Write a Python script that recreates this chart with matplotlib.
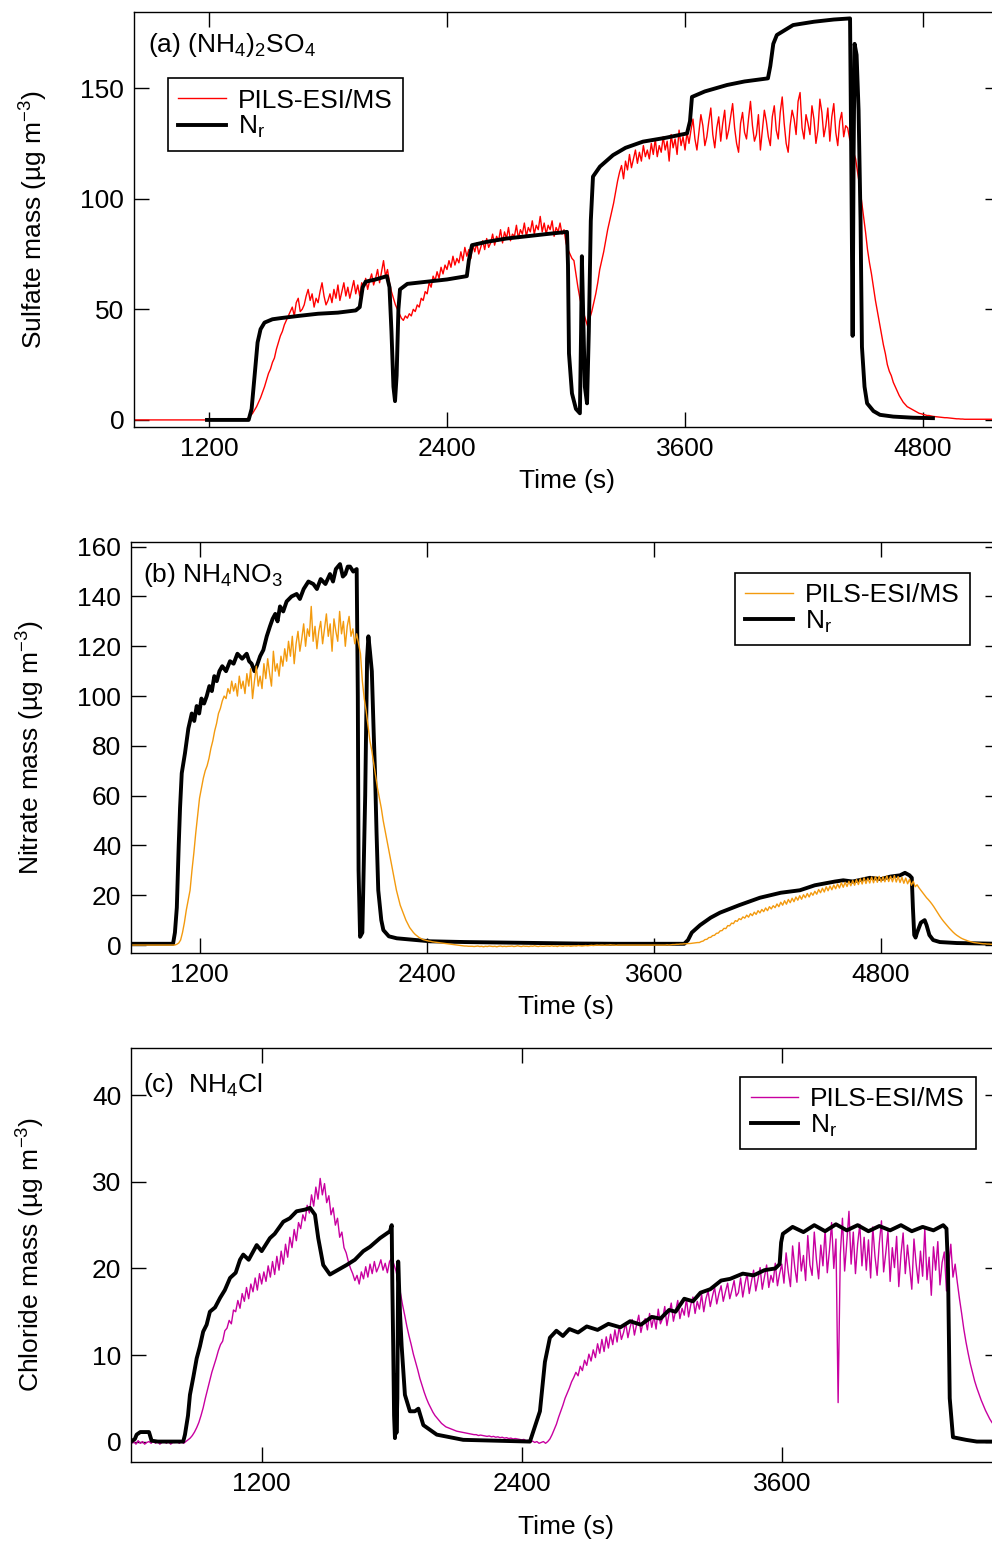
import numpy as np
import matplotlib
matplotlib.use('Agg')
import matplotlib.pyplot as plt

plt.rcParams['font.family'] = ['Liberation Sans', 'DejaVu Sans']
plt.rcParams['mathtext.fontset'] = 'custom'
plt.rcParams['mathtext.rm'] = 'Liberation Sans'
plt.rcParams['mathtext.it'] = 'Liberation Sans:italic'
plt.rcParams['mathtext.bf'] = 'Liberation Sans:bold'

# ---- (a) ammonium sulfate ----
# PILS-ESI/MS, one value every 10 s starting at 820 s (rows = 200 s)
sul_pils_t0, sul_pils_dt = 820, 10
sul_pils = [
    0, 0, 0, 0, 0, 0, 0, 0, 0, 0, 0, 0, 0, 0, 0, 0, 0, 0, 0, 0,                        # 820
    0, 0, 0, 0, 0, 0, 0, 0, 0, 0, 0, 0, 0, 0, 0, 0, 0, 0, 0, 0,                        # 1020
    0, 0, 0, 0, 0, 0, 0, 0, 0, 0, 0, 0, 0, 0, 0, 0, 0.3, 0.5, 1, 2,                    # 1220
    3, 4.5, 6, 8, 10, 12.5, 15, 18, 21, 23, 26, 28, 32, 35, 38, 40, 43, 45, 47, 49,    # 1420
    51, 47, 53, 55, 49, 50, 52, 56, 59, 54, 57, 51, 55, 53, 58, 62, 56, 52, 54, 57,    # 1620
    53, 59, 55, 61, 54, 58, 62, 56, 60, 55, 59, 63, 57, 61, 56, 62, 60, 64, 59, 63,    # 1820
    66, 61, 64, 68, 62, 67, 72, 65, 68, 62, 58, 55, 52, 50, 48, 46, 45, 47, 46, 48,    # 2020
    47, 50, 49, 52, 51, 55, 54, 58, 57, 62, 60, 65, 63, 67, 64, 69, 66, 70, 68, 72,    # 2220
    69, 74, 70, 73, 71, 76, 72, 78, 74, 77, 73, 79, 76, 80, 75, 78, 81, 77, 82, 78,    # 2420
    80, 84, 79, 83, 81, 86, 80, 85, 82, 87, 81, 84, 83, 88, 82, 86, 84, 89, 83, 87,    # 2620
    85, 90, 84, 88, 86, 92, 85, 89, 84, 88, 86, 90, 83, 87, 85, 89, 84, 86, 80, 77,    # 2820
    75, 73, 72, 66, 60, 55, 51, 48, 45, 42, 46, 49, 53, 57, 62, 68, 72, 76, 81, 86,    # 3020
    90, 94, 98, 103, 108, 112, 115, 109, 117, 113, 120, 114, 118, 122, 116, 121, 117, 124, 119, 122,  # 3220
    118, 125, 120, 127, 119, 124, 121, 128, 122, 126, 117, 129, 123, 127, 120, 131, 124, 128, 122, 130,  # 3420
    125, 131, 136, 127, 122, 130, 138, 133, 124, 128, 135, 141, 129, 123, 132, 137, 126, 134, 140, 127,  # 3620
    131, 137, 143, 132, 125, 121, 134, 139, 130, 127, 136, 144, 133, 126, 129, 138, 122, 131, 140, 135,  # 3820
    128, 124, 137, 142, 131, 127, 139, 146, 134, 125, 121, 133, 140, 136, 129, 144, 148, 132, 127, 138,  # 4020
    134, 129, 142, 136, 125, 131, 145, 139, 128, 133, 141, 126, 137, 143, 130, 124, 135, 139, 128, 133,  # 4220
    132, 127, 125, 121, 118, 112, 106, 99, 92, 85, 77, 71, 66, 60, 54, 49, 44, 39, 34, 30,  # 4420
    25, 22, 20, 17, 15, 13, 11, 9.5, 8, 7, 6, 5.5, 5, 4.5, 4, 3.5, 3, 2.8, 2.5, 2.3,   # 4620
    2, 2, 1.8, 1.6, 1.5, 1.4, 1.3, 1.2, 1.1, 1, 1, 0.9, 0.8, 0.7, 0.6, 0.5, 0.5, 0.4, 0.4, 0.3,  # 4820
    0.3, 0.3, 0.3, 0.3, 0.3, 0.3, 0.3, 0.3, 0.3, 0.3, 0.3, 0.3, 0.3, 0.3, 0.3, 0.3, 0.3,  # 5020
]
sul_nr_t = [1190, 1400, 1415, 1430, 1445, 1460, 1480, 1520, 1560, 1650,
            1750, 1850, 1940, 1960, 1975, 1990, 2040, 2097, 2110, 2120,
            2130, 2138, 2146, 2155, 2163, 2200, 2300, 2400, 2500, 2510,
            2526, 2600, 2700, 2800, 2900, 3005, 3010, 3015, 3030, 3050,
            3070, 3076, 3080, 3086, 3095, 3106, 3115, 3125, 3136, 3171,
            3237, 3300, 3388, 3500, 3610, 3625, 3635, 3700, 3812, 3900,
            4018, 4030, 4045, 4063, 4145, 4250, 4350, 4432, 4438, 4445,
            4450, 4455, 4465, 4475, 4485, 4492, 4505, 4518, 4550, 4583,
            4650, 4750, 4850]
sul_nr = [0, 0, 5, 20, 35, 41, 44, 45.5, 46, 47,
          48, 48.5, 49.5, 51, 60, 62.5, 63.5, 65, 60, 40,
          15, 8.5, 20, 50, 59, 61.5, 62.5, 63.5, 65, 72,
          79, 80.5, 82, 83, 84, 85, 70, 30, 12, 5,
          3, 40, 74, 50, 15, 7.5, 40, 90, 110, 114.5,
          119.7, 123, 125.8, 127.5, 129.5, 135, 146, 148.5, 151.4, 153,
          154.4, 160, 170, 174, 178.5, 180, 181, 181.5, 120, 38,
          120, 170, 165, 140, 90, 33, 15, 7.5, 4, 2.3,
          1.5, 1, 0.8]

# ---- (b) ammonium nitrate ----
nit_pils_t0, nit_pils_dt = 840, 10
nit_pils = [
    0, 0, 0, 0, 0, 0, 0, 0, 0, 0, 0, 0, 0, 0, 0, 0, 0, 0, 0, 0,                        # 840
    0, 0, 0, 0, 0.3, 0.8, 2, 5, 9, 14, 18, 22, 30, 37, 45, 52, 59, 63, 67, 70,         # 1040
    72, 75, 79, 82, 86, 89, 93, 95, 98, 100, 99, 103, 101, 106, 102, 105, 100, 108, 103, 106,  # 1240
    101, 109, 104, 111, 99, 106, 112, 104, 108, 103, 113, 107, 115, 109, 104, 118, 110, 113, 108, 116,  # 1440
    112, 119, 114, 122, 116, 124, 113, 121, 126, 118, 123, 129, 120, 127, 124, 136, 122, 128, 119, 126,  # 1640
    130, 121, 127, 133, 124, 129, 118, 131, 126, 122, 134, 125, 130, 120, 128, 132, 124, 127, 121, 125,  # 1840
    121, 117, 106, 99, 94, 88, 82, 78, 73, 68, 63, 59, 55, 50, 46, 42, 38, 34, 30, 26,  # 2040
    22, 19, 16, 14, 12, 10, 8.5, 7, 6, 5, 4.2, 3.6, 3, 2.6, 2.2, 2, 1.8, 1.6, 1.5, 1.3,  # 2240
    1.2, 1.1, 1, 0.9, 0.8, 0.7, 0.6, 0.5, 0.4, 0.3, 0.2, 0.1, 0, -0.1, -0.2, -0.3, -0.4, -0.4, -0.5, -0.5,  # 2440
    -0.5, -0.6, -0.5, -0.4, -0.6, -0.5, -0.7, -0.5, -0.6, -0.4, -0.5, -0.6, -0.5, -0.7, -0.5, -0.4, -0.6, -0.5, -0.6, -0.5,  # 2640
    -0.5, -0.4, -0.6, -0.5, -0.3, -0.5, -0.6, -0.4, -0.5, -0.5, -0.6, -0.4, -0.5, -0.3, -0.5, -0.6, -0.4, -0.5, -0.5, -0.4,  # 2840
    -0.4, -0.5, -0.3, -0.5, -0.4, -0.6, -0.3, -0.4, -0.5, -0.3, -0.4, -0.3, -0.5, -0.4, -0.3, -0.4, -0.2, -0.3, -0.4, -0.3,  # 3040
    -0.2, -0.3, -0.2, -0.1, -0.2, -0.1, 0, -0.1, 0, 0, -0.1, 0, 0, 0.1, 0, 0, -0.1, 0, 0, 0,  # 3240
    0, 0, 0, 0, 0, 0, 0, 0, 0, 0, 0, 0, 0, 0, 0, 0, 0, 0, 0, 0,                        # 3440
    0, 0, 0, 0.1, 0, 0.1, 0.2, 0.2, 0.3, 0.3, 0.4, 0.4, 0.5, 0.5, 0.6, 0.6, 0.7, 0.8, 0.9, 1,  # 3640
    1, 1.4, 1.6, 2.2, 2.3, 3, 3.1, 3.8, 3.9, 4.7, 4.8, 5.7, 5.8, 6.7, 6.6, 7.8, 7.7, 8.8, 8.6, 9.8,  # 3840
    9.5, 10.6, 10.2, 11.3, 10.8, 12, 11.2, 12.6, 11.8, 13.2, 12.3, 13.8, 12.9, 14.3, 13.4, 14.9, 13.8, 15.4, 14.5, 15.8,  # 4040
    15, 16.5, 15.4, 17.2, 16, 17.8, 16.4, 18.3, 17, 18.8, 17.4, 19.3, 18, 19.8, 18.4, 20.2, 19, 20.7, 19.3, 21,  # 4240
    20, 21.6, 20.4, 22.3, 21, 22.8, 21.3, 23.4, 21.8, 23.7, 22.2, 24.1, 22.6, 24.5, 22.9, 25, 23.2, 25.2, 23.5, 25.6,  # 4440
    23.8, 25.9, 24, 26.3, 24.3, 26.6, 24.5, 27, 24.7, 26.8, 24.9, 27.3, 25, 27.5, 25.2, 27.6, 25.3, 27.4, 25.4, 27.8,  # 4640
    25.5, 27.6, 25.4, 27.9, 25.3, 27.5, 25.1, 27.2, 24.8, 26.9, 24.6, 26.4, 24, 25.6, 23.4, 24.2, 23, 22, 21, 20,  # 4840
    19, 18.2, 17.3, 16.3, 15.2, 14, 12.8, 11.6, 10.5, 9.5, 8.6, 7.7, 6.8, 6, 5.2, 4.5, 3.9, 3.4, 2.9, 2.5,  # 5040
    2.2, 1.9, 1.6, 1.4, 1.2, 1, 0.9, 0.8, 0.7, 0.6, 0.5, 0.5, 0.4, 0.4, 0.3, 0.3, 0.3, 0.3, 0.3,  # 5240
]
nit_nr_t = [838, 1060, 1070, 1080, 1090, 1097, 1106, 1123, 1141, 1159,
            1172, 1185, 1198, 1210, 1224, 1238, 1252, 1265, 1278, 1291,
            1305, 1320, 1340, 1361, 1380, 1400, 1425, 1449, 1462, 1475,
            1490, 1502, 1520, 1537, 1555, 1572, 1586, 1600, 1612, 1625,
            1642, 1660, 1686, 1713, 1730, 1750, 1775, 1801, 1820, 1840,
            1865, 1889, 1905, 1920, 1942, 1957, 1970, 1983, 1995, 2012,
            2030, 2036, 2040, 2048, 2060, 2075, 2085, 2092, 2100, 2110,
            2120, 2127, 2135, 2144, 2160, 2171, 2200, 2242, 2418, 2600,
            2800, 3000, 3200, 3400, 3600, 3760, 3780, 3800, 3844, 3900,
            3949, 4050, 4160, 4270, 4371, 4450, 4556, 4600, 4650, 4741,
            4800, 4850, 4900, 4926, 4950, 4962, 4968, 4975, 4982, 4990,
            5010, 5030, 5040, 5055, 5075, 5110, 5200, 5428]
nit_nr = [0.5, 0.5, 5, 15, 40, 55, 69, 77, 87, 93,
          90, 96, 93, 99, 97, 100, 104, 102, 108, 106,
          110, 112, 110, 114, 113, 117, 115, 117, 114, 113,
          110, 112, 116, 118.5, 124, 128, 131, 133, 130, 136,
          134, 138, 140, 141, 139, 143, 146, 145, 143, 147,
          145, 149, 146, 151, 153, 148, 149, 152, 152, 150,
          151, 100, 30, 3.3, 5, 60, 115, 124, 118, 110,
          85, 69, 45, 22, 10, 6, 3.5, 2.7, 1.5, 1.2,
          1, 0.8, 0.6, 0.5, 0.5, 0.5, 2, 5, 8, 11,
          13, 16, 19, 21, 22, 24, 25.5, 26, 25.5, 27,
          26.5, 27.5, 28, 29, 28, 27, 15, 4, 3, 5,
          9, 10, 8, 4, 2, 1.2, 0.8, 0.5]

# ---- (c) ammonium chloride ----
chl_pils_t0, chl_pils_dt = 600, 10
chl_pils = [
    -0.2, 0, -0.3, 0.1, -0.2, 0, -0.3, -0.1, 0, -0.2, 0.1, -0.2, 0, -0.3, -0.1, 0.1, -0.2, 0, -0.3, -0.1,  # 600
    -0.1, 0, -0.2, 0, -0.2, 0, 0.2, 0.4, 0.7, 1.1, 1.6, 2.2, 3, 3.9, 5, 6, 7, 8, 8.8, 9.6,  # 800
    10.5, 11.2, 11.6, 12.8, 13.1, 14, 13.6, 15.2, 15, 16.3, 15.4, 17.1, 16.2, 17.8, 16.5, 18.2, 17.3, 18.9, 17.5, 19.4,  # 1000
    18.2, 19.6, 18.5, 20.3, 19, 20.8, 19.3, 21.4, 19.8, 22, 20.5, 22.8, 21.3, 23.6, 22.4, 24.5, 23.2, 25.3, 24.6, 26.2,  # 1200
    25.5, 27.3, 26.4, 28.5, 27.2, 29.4, 28, 30.4, 28.5, 29.8, 27.6, 28.4, 26.2, 27, 25, 25.8, 23.6, 24.2, 22.4, 21.8,  # 1400
    20.8, 20, 19.4, 18.6, 19.2, 18.2, 19.6, 18.8, 20.2, 19, 20.5, 19.4, 20.8, 19.6, 20.2, 21, 19.8, 20.6, 19.5, 20.8,  # 1600
    21.2, 20.5, 19.7, 18.5, 17.2, 15.8, 14.6, 13.3, 12.2, 11.2, 10.1, 9.2, 8.3, 7.3, 6.5, 5.7, 5, 4.4, 3.9, 3.4,  # 1800
    3, 2.7, 2.4, 2.1, 1.9, 1.7, 1.6, 1.5, 1.4, 1.3, 1.2, 1.15, 1.1, 1.05, 1, 0.95, 0.9, 0.85, 0.8, 0.8,  # 2000
    0.7, 0.75, 0.7, 0.65, 0.6, 0.65, 0.55, 0.6, 0.5, 0.55, 0.45, 0.5, 0.4, 0.45, 0.35, 0.4, 0.3, 0.35, 0.3, 0.25,  # 2200
    0.2, 0.25, 0.1, 0.15, 0, 0.05, -0.1, 0, -0.2, -0.1, 0, -0.2, 0, 0.3, 0.8, 1.4, 2, 2.8, 3.5, 4.2,  # 2400
    5, 5.6, 6.2, 6.9, 7.4, 8, 7.6, 8.7, 8.2, 9.4, 8.8, 10.1, 9.3, 10.6, 9.7, 11.3, 10.2, 11.8, 10.4, 12.1,  # 2600
    10.8, 12.4, 11.2, 12.9, 11.5, 13.3, 11.8, 12.6, 13.7, 12, 13.2, 14.1, 12.3, 13.5, 14.6, 12.6, 13.8, 14.2, 12.9, 14.8,  # 2800
    13.2, 14.5, 13, 15.3, 13.6, 14.2, 15.6, 13.4, 14.8, 16, 13.9, 15.1, 16.3, 14.2, 15.4, 14.6, 16.5, 14.4, 15.8, 16.7,  # 3000
    14.8, 16.2, 15.3, 17, 15, 16.5, 17.4, 15.6, 16.8, 17.8, 15.9, 17.1, 18, 16.2, 17.3, 18.3, 16.5, 17.5, 18.6, 16.8,  # 3200
    17.2, 18.9, 16.7, 18.2, 19.4, 17.1, 18.5, 19.8, 17.4, 18.7, 20.1, 17.6, 19, 20.4, 17.8, 19.2, 18.4, 20.6, 18, 19.4,  # 3400
    20.5, 18.3, 21.8, 19.6, 17.9, 22.6, 20.1, 18.4, 23, 19.7, 21.5, 18.6, 23.8, 20.4, 19.2, 24.2, 21, 18.8, 22.7, 20.3,  # 3600
    24.5, 19.5, 22.1, 25.3, 20, 23.4, 4.5, 21.6, 25.8, 19.7, 23, 26.6, 20.5, 24.2, 19.4, 22.8, 25.1, 20.3, 23.6, 19.8,  # 3800
    23.3, 18.9, 24.8, 21.4, 19.2, 22.9, 25.5, 19.6, 21.8, 24.3, 18.5, 22.4, 20.1, 23.7, 17.9, 21.6, 24.1, 19.4, 22.7, 20.2,  # 4000
    17.6, 23.4, 20.5, 18.3, 22, 19.1, 24.6, 18.7, 21.3, 16.9, 22.5, 19.8, 23.1, 18.1, 20.7, 21.9, 17.4, 20.2, 22.8, 19,  # 4200
    20.5, 18.4, 16.5, 14.8, 13, 11.5, 10.2, 9, 8, 7, 6.2, 5.5, 4.8, 4.2, 3.6, 3.1, 2.6, 2.2, 1.9, 1.7,  # 4400
    1.5,  # 4600
]
chl_nr_t = [597, 615, 623, 640, 680, 692, 720, 838, 846, 860,
            869, 885, 900, 915, 930, 946, 961, 985, 1008, 1030,
            1054, 1080, 1100, 1115, 1140, 1177, 1200, 1238, 1260, 1300,
            1330, 1361, 1400, 1423, 1446, 1461, 1484, 1515, 1550, 1592,
            1630, 1669, 1700, 1746, 1792, 1800, 1803, 1807, 1811, 1815,
            1818, 1822, 1826, 1830, 1838, 1846, 1861, 1884, 1907, 1923,
            1946, 2008, 2130, 2438, 2484, 2507, 2530, 2560, 2590, 2620,
            2660, 2700, 2750, 2800, 2855, 2900, 2950, 3000, 3040, 3080,
            3110, 3150, 3190, 3225, 3270, 3320, 3362, 3420, 3470, 3520,
            3570, 3590, 3597, 3605, 3650, 3700, 3750, 3800, 3850, 3900,
            3950, 4000, 4050, 4100, 4150, 4200, 4250, 4300, 4345, 4360,
            4367, 4375, 4390, 4450, 4500, 4607]
chl_nr = [0, 0.3, 0.8, 1.1, 1.1, 0.1, 0, 0, 0.8, 3,
          5.4, 7.5, 9.6, 11, 12.7, 13.5, 15, 15.5, 16.6, 17.5,
          18.9, 19.5, 21, 21.6, 21, 22.7, 22, 23.5, 24, 25.4,
          25.8, 26.6, 26.8, 27, 26.2, 23.5, 20.4, 19.3, 19.8, 20.4,
          21, 22, 22.5, 23.5, 24.3, 25, 18, 11, 3, 0.4,
          7.7, 1, 5, 20.8, 15, 11, 5.4, 3.5, 3.5, 3.8,
          1.9, 0.8, 0.2, 0, 3.5, 9.2, 12, 12.8, 12.2, 13,
          12.6, 13.3, 12.9, 13.6, 13.2, 13.9, 13.5, 14.4, 14.2, 15.2,
          15, 16.5, 16.2, 17.2, 17.6, 18.6, 18.8, 19.4, 19.2, 19.8,
          20, 20.5, 23, 24, 24.8, 24.2, 25, 24.3, 25.1, 24.4,
          25, 24.3, 24.9, 24.4, 25, 24.3, 24.8, 24.4, 25, 24.6,
          20, 5, 0.5, 0.2, 0, 0]

FS = 19
RED = '#ff0000'
ORANGE = '#f39a0e'
MAGENTA = '#c800a0'

fig = plt.figure(figsize=(9.92, 15.42), dpi=100)
W, H = 992.0, 1542.0


def make_axes(left, top, right, bottom):
    return fig.add_axes([left / W, 1 - bottom / H, (right - left) / W, (bottom - top) / H])


def style(ax, xticks, xlim, yticks, ylim, ylabel, xpad):
    ax.set_xticks(xticks)
    ax.set_yticks(yticks)
    ax.set_xlim(xlim)
    ax.set_ylim(ylim)
    ax.tick_params(direction='in', top=True, right=True, length=11, width=1,
                   labelsize=FS, pad=7)
    for s in ax.spines.values():
        s.set_linewidth(1)
    ax.set_xlabel('Time (s)', fontsize=FS, labelpad=xpad)
    ax.set_ylabel(ylabel, fontsize=FS)
    ax.yaxis.set_label_coords(-0.097, 0.5)


def legend(ax, h1, h2, loc, anchor):
    leg = ax.legend([h1, h2], ['PILS-ESI/MS', r'N$_\mathrm{r}$'], loc=loc,
                    bbox_to_anchor=anchor, fontsize=FS, frameon=True, fancybox=False,
                    edgecolor='black', framealpha=1, handlelength=1.8,
                    handletextpad=0.45, borderpad=0.4, labelspacing=0.05,
                    borderaxespad=0)
    leg.get_frame().set_linewidth(1.2)


# (a)
ax = make_axes(134, 12, 1000, 427)
t = sul_pils_t0 + sul_pils_dt * np.arange(len(sul_pils))
h1, = ax.plot(t, sul_pils, color=RED, lw=1.0)
h2, = ax.plot(sul_nr_t, sul_nr, color='black', lw=2.8)
style(ax, [1200, 2400, 3600, 4800], (822, 5188), [0, 50, 100, 150], (-3.2, 184.4),
      'Sulfate mass (µg m$^{-3}$)', 6)
ax.text(0.016, 0.92, '(a) (NH$_4$)$_2$SO$_4$', transform=ax.transAxes, fontsize=FS, va='center')
legend(ax, h1, h2, 'upper left', (0.039, 0.841))

# (b)
ax = make_axes(131, 541.7, 1000, 953)
t = nit_pils_t0 + nit_pils_dt * np.arange(len(nit_pils))
h2, = ax.plot(nit_nr_t, nit_nr, color='black', lw=2.8)
h1, = ax.plot(t, nit_pils, color=ORANGE, lw=1.0)
style(ax, [1200, 2400, 3600, 4800], (838, 5428), np.arange(0, 161, 20), (-3.2, 162),
      'Nitrate mass (µg m$^{-3}$)', 6)
ax.text(0.014, 0.919, '(b) NH$_4$NO$_3$', transform=ax.transAxes, fontsize=FS, va='center')
legend(ax, h1, h2, 'upper right', (0.9655, 0.9246))

# (c)
ax = make_axes(131, 1047.7, 1000, 1462)
t = chl_pils_t0 + chl_pils_dt * np.arange(len(chl_pils))
h1, = ax.plot(t, chl_pils, color=MAGENTA, lw=1.0)
h2, = ax.plot(chl_nr_t, chl_nr, color='black', lw=2.8)
style(ax, [1200, 2400, 3600], (597, 4607), [0, 10, 20, 30, 40], (-2.36, 45.5),
      'Chloride mass (µg m$^{-3}$)', 14)
ax.text(0.014, 0.91, '(c)  NH$_4$Cl', transform=ax.transAxes, fontsize=FS, va='center')
legend(ax, h1, h2, 'upper right', (0.972, 0.930))

fig.savefig('out.png', dpi=100)
